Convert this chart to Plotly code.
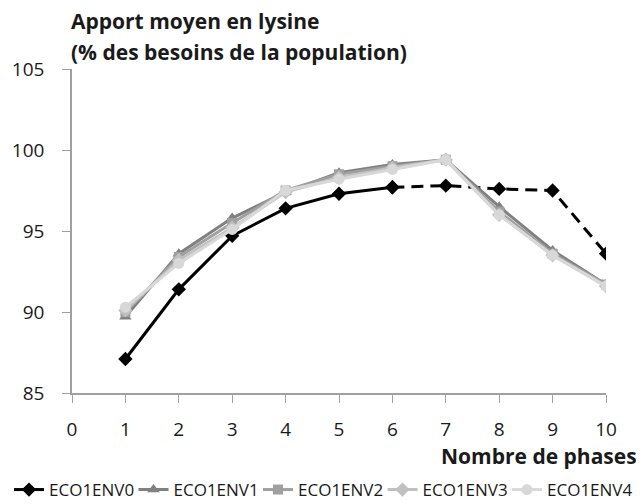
import plotly.graph_objects as go

phases = [1, 2, 3, 4, 5, 6, 7, 8, 9, 10]
env0 = [87.1, 91.4, 94.7, 96.4, 97.3, 97.7, 97.8, 97.6, 97.5, 93.6]
env1 = [89.7, 93.6, 95.8, 97.4, 98.6, 99.1, 99.4, 96.5, 93.8, 91.7]
env2 = [90.0, 93.4, 95.5, 97.5, 98.5, 99.0, 99.4, 96.2, 93.6, 91.7]
env3 = [90.1, 93.2, 95.2, 97.4, 98.3, 98.9, 99.4, 96.0, 93.5, 91.6]
env4 = [90.3, 93.0, 95.1, 97.5, 98.2, 98.8, 99.4, 96.0, 93.5, 91.6]
names = ["ECO1ENV0", "ECO1ENV1", "ECO1ENV2", "ECO1ENV3", "ECO1ENV4"]
x_ticks = [0, 1, 2, 3, 4, 5, 6, 7, 8, 9, 10]
y_ticks = [85, 90, 95, 100, 105]

FONT = "Open Sans"
TXT = "#1a1a1a"
OFF = 8  # default page body margin
W, H = 644 - OFF, 504 - OFF
ML, MT = 72 - OFF, 69 - OFF
MR = W - (606 - OFF)
MB = H - (393 - OFF)
PW, PH = W - ML - MR, H - MT - MB


def px_x(px):
    return (px - OFF - ML) / PW


def px_y(py):
    return (H - MB - (py - OFF)) / PH


legend_ids = ["legend", "legend2", "legend3", "legend4", "legend5"]
fig = go.Figure()

# ECO1ENV0: solid to 6, dashed from 6 to 10
solid_n = 6
fig.add_trace(go.Scatter(
    x=phases[:solid_n], y=env0[:solid_n], name=names[0], mode="lines+markers",
    line=dict(color="black", width=3),
    marker=dict(symbol="diamond", size=11, color="black"),
    legend=legend_ids[0]))
fig.add_trace(go.Scatter(
    x=phases[solid_n - 1:], y=env0[solid_n - 1:], name=names[0], mode="lines+markers",
    line=dict(color="black", width=3, dash="12px,7px"),
    marker=dict(symbol="diamond", size=11, color="black"),
    showlegend=False))

styles = [
    (env1, names[1], "#808080", "triangle-up", 11),
    (env2, names[2], "#a0a0a0", "square", 10),
    (env3, names[3], "#c0c0c0", "diamond", 11),
    (env4, names[4], "#d8d8d8", "circle", 11),
]
for i, (vals, nm, col, sym, sz) in enumerate(styles):
    fig.add_trace(go.Scatter(
        x=phases, y=vals, name=nm, mode="lines+markers",
        line=dict(color=col, width=3),
        marker=dict(symbol=sym, size=sz, color=col),
        legend=legend_ids[i + 1]))

legend_layout = {}
for i, lid in enumerate(legend_ids):
    legend_layout[lid] = dict(
        orientation="h", x=(1 + 124.5 * i) / W, y=1 - (490 - OFF) / H,
        xref="container", yref="container", xanchor="left", yanchor="middle",
        font=dict(family=FONT, size=17, color=TXT),
        itemwidth=30, bgcolor="rgba(0,0,0,0)")

fig.update_layout(
    width=W, height=H,
    margin=dict(l=ML, r=MR, t=MT, b=MB, autoexpand=False),
    plot_bgcolor="white", paper_bgcolor="white",
    font=dict(family=FONT, color=TXT, size=18),
    showlegend=True,
    xaxis=dict(range=[0, 10], tickvals=x_ticks, ticks="outside", ticklen=8,
               tickcolor="#a0a0a0", showline=True, linecolor="#a0a0a0", linewidth=1.5,
               showgrid=False, zeroline=False, ticklabelstandoff=10,
               tickfont=dict(family=FONT, size=19, color=TXT)),
    yaxis=dict(range=[85, 105], tickvals=y_ticks, ticks="outside", ticklen=8,
               tickcolor="#a0a0a0", showline=True, linecolor="#a0a0a0", linewidth=1.5,
               showgrid=False, zeroline=False, ticklabelstandoff=14,
               tickfont=dict(family=FONT, size=19, color=TXT)),
    annotations=[
        dict(text="<b>Apport moyen en lysine</b>",
             xref="paper", yref="paper", x=px_x(69), y=px_y(21),
             xanchor="left", yanchor="middle", showarrow=False,
             font=dict(family=FONT, size=21, color=TXT)),
        dict(text="<b>(% des besoins de la population)</b>",
             xref="paper", yref="paper", x=px_x(69), y=px_y(52),
             xanchor="left", yanchor="middle", showarrow=False,
             font=dict(family=FONT, size=21, color=TXT)),
        dict(text="<b>Nombre de phases</b>", xref="paper", yref="paper",
             x=px_x(639), y=px_y(456), xanchor="right", yanchor="middle",
             showarrow=False, font=dict(family=FONT, size=21, color=TXT)),
    ],
    **legend_layout,
)

fig.write_html("out.html")
